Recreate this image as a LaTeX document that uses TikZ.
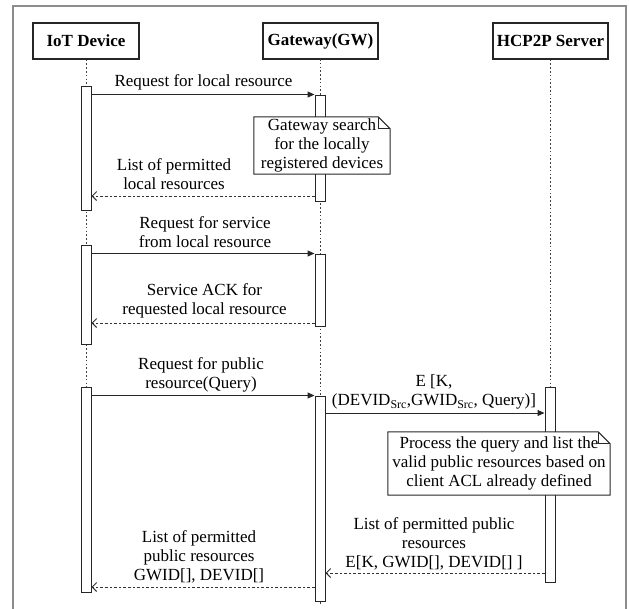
\documentclass[tikz,border=0pt]{standalone}
\usepackage{fontspec}
\setmainfont{Liberation Serif}
\usetikzlibrary{arrows.meta}

\tikzset{
  txt/.style={font=\fontsize{17}{19}\selectfont, inner sep=0pt, align=center},
  headbox/.style={draw=black!85, line width=1.1pt, minimum height=36pt,
    inner sep=0pt, font=\bfseries\fontsize{17}{19}\selectfont},
  lifeline/.style={draw=black!75, line width=0.9pt, dash pattern=on 1.6pt off 2.2pt},
  actbar/.style={draw=black!85, fill=white, line width=1pt, minimum width=10pt, inner sep=0pt},
  call/.style={draw=black!85, line width=1pt, -{Triangle[length=7pt,width=6pt]}},
  reply/.style={draw=black!80, line width=0.9pt, dash pattern=on 2.6pt off 2pt,
    -{Straight Barb[length=4.5pt,width=9pt]}},
  notebox/.style={fill=white, inner sep=0pt, align=center,
    font=\fontsize{17}{19}\selectfont},
  noteline/.style={draw=black!85, line width=1pt},
}

\begin{document}
\begin{tikzpicture}[x=1pt,y=-1pt]
  \useasboundingbox (0,0) rectangle (629,608);
  % outer frame
  \draw[black!45, line width=1.8pt] (13,609) -- (13,6) -- (626,6) -- (626,609);

  % participants
  \node[headbox, minimum width=106pt] (iot) at (86,41) {IoT Device};
  \node[headbox, minimum width=115pt] (gw)  at (320.5,41) {Gateway(GW)};
  \node[headbox, minimum width=115pt] (srv) at (550.5,41) {HCP2P Server};

  % lifelines
  \coordinate (iotend) at (86,592);
  \coordinate (gwend)  at (320,606);
  \coordinate (srvend) at (550,582);
  \draw[lifeline] (iot.south) -- (iotend);
  \draw[lifeline] (320,59) -- (gwend);
  \draw[lifeline] (srv.south -| srvend) -- (srvend);

  % activation bars
  \node[actbar, minimum height=124pt] (iotbar1) at (86,148) {};
  \node[actbar, minimum height=106pt] (gwbar1)  at (320,148) {};
  \node[actbar, minimum height=99pt]  (iotbar2) at (86,294.5) {};
  \node[actbar, minimum height=72pt]  (gwbar2)  at (320,290) {};
  \node[actbar, minimum height=205pt] (iotbar3) at (86,489.5) {};
  \node[actbar, minimum height=205pt] (gwbar3)  at (320,498.5) {};
  \node[actbar, minimum height=195pt] (srvbar)  at (550,484.5) {};

  % local resource lookup
  \draw[call] (iotbar1.east |- gwbar1.north) -- (gwbar1.north west);
  \node[txt] (m1) at (203.5,82) {Request for local resource};

  \node[notebox, minimum width=136pt, minimum height=57pt] (note1) at (322,145.5)
    {Gateway search\\for the locally\\registered devices};
  \draw[noteline] (note1.north west) -- ([xshift=-12pt]note1.north east)
    -- ([yshift=-12pt]note1.north east) -- (note1.south east)
    -- (note1.south west) -- cycle;
  \draw[noteline, line width=0.8pt] ([xshift=-12pt]note1.north east)
    -- ([xshift=-12pt,yshift=-12pt]note1.north east)
    -- ([yshift=-12pt]note1.north east);

  \draw[reply] (gwbar1.west |- 0,196) -- (iotbar1.east |- 0,196);
  \node[txt] (r1) at (174,174) {List of permitted\\local resources};

  % local service
  \draw[call] (iotbar2.east |- gwbar2.north) -- (gwbar2.north west);
  \node[txt] (m2) at (205,232) {Request for service\\from local resource};
  \draw[reply] (gwbar2.west |- 0,323) -- (iotbar2.east |- 0,323);
  \node[txt] (r2) at (204.5,301) {Service ACK for\\requested local resource};

  % public resource query
  \draw[call] (iotbar3.east |- gwbar3.north) -- (gwbar3.north west);
  \node[txt] (m3) at (201,374.5) {Request for public\\resource(Query)};
  \draw[call] (gwbar3.east |- 0,413) -- (srvbar.west |- 0,413);
  \node[txt] (m4) at (434,392)
    {E [K,\\(DEVID\textsubscript{Src},GWID\textsubscript{Src}, Query)]};

  \node[notebox, minimum width=222pt, minimum height=63pt] (note2) at (499,463.5)
    {Process the query and list the\\valid public resources based on\\client ACL already defined};
  \draw[noteline] (note2.north west) -- ([xshift=-12pt]note2.north east)
    -- ([yshift=-12pt]note2.north east) -- (note2.south east)
    -- (note2.south west) -- cycle;
  \draw[noteline, line width=0.8pt] ([xshift=-12pt]note2.north east)
    -- ([xshift=-12pt,yshift=-12pt]note2.north east)
    -- ([yshift=-12pt]note2.north east);

  \draw[reply] (srvbar.west |- 0,573) -- (gwbar3.east |- 0,573);
  \node[txt] (r3) at (434,543.5)
    {List of permitted public\\resources\\E[K, GWID[], DEVID[] ]};
  \draw[reply] (gwbar3.west |- 0,587) -- (iotbar3.east |- 0,587);
  \node[txt] (r4) at (199,557)
    {List of permitted\\public resources\\GWID[], DEVID[]};
\end{tikzpicture}
\end{document}
